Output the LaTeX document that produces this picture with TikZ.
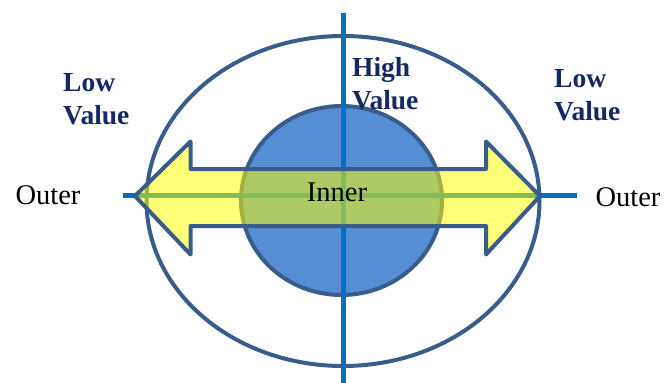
\documentclass[tikz,border=0pt]{standalone}
\usepackage{fontspec}
\setmainfont{Liberation Serif}
\definecolor{darkline}{RGB}{56,93,138}
\definecolor{innerfill}{RGB}{85,142,213}
\definecolor{axisblue}{RGB}{0,112,192}
\definecolor{navytext}{RGB}{20,40,100}
\definecolor{arrowyellow}{RGB}{255,255,0}
\tikzset{
  outline/.style={draw=darkline, line width=4pt},
  axis/.style={draw=axisblue, line width=5pt},
  valuelabel/.style={text=navytext, font=\bfseries\fontsize{27.5}{33}\selectfont, align=left, inner sep=0pt, anchor=north west},
  plainlabel/.style={text=black, font=\fontsize{28.5}{33}\selectfont, inner sep=0pt}
}
\begin{document}
\begin{tikzpicture}[x=1pt,y=-1pt]
\useasboundingbox (0,0) rectangle (665,383);
% outer ellipse
\draw[outline] (343,201) ellipse [x radius=196.5pt, y radius=165pt];
% inner ellipse
\draw[outline, fill=innerfill] (341.5,200.5) ellipse [x radius=100.5pt, y radius=94.5pt];
% axes
\coordinate (vtop) at (343.5,13);
\coordinate (vbot) at (343.5,383);
\coordinate (hleft) at (122.5,195);
\coordinate (hright) at (577,195);
\draw[axis] (vtop) -- (vbot);
\draw[axis] (hleft) -- (hright);
% double arrow
\path[fill=arrowyellow, fill opacity=0.53]
  (135,196) -- (190.5,141.5) -- (190.5,169) -- (486,169) -- (486,141.5) -- (540,196)
  -- (486,254.5) -- (486,226) -- (190.5,226) -- (190.5,254.5) -- cycle;
\draw[outline, line join=round]
  (135,196) -- (190.5,141.5) -- (190.5,169) -- (486,169) -- (486,141.5) -- (540,196)
  -- (486,254.5) -- (486,226) -- (190.5,226) -- (190.5,254.5) -- cycle;
% labels
\node[valuelabel] (lowleft) at (63,73) {Low\\Value};
\node[valuelabel] (high) at (352,57) {High\\Value};
\node[valuelabel] (lowright) at (554,69) {Low\\Value};
\node[plainlabel, anchor=base] (outerleft) at (48,204) {Outer};
\node[plainlabel, anchor=base] (outerright) at (628,206) {Outer};
\node[plainlabel, anchor=base] (inner) at (337,201) {Inner};
\end{tikzpicture}
\end{document}
